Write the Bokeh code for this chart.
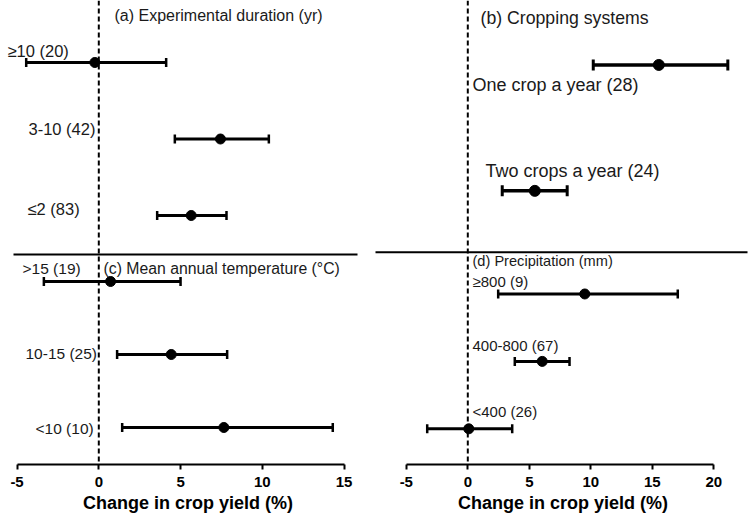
from bokeh.plotting import figure
from bokeh.layouts import row
from bokeh.models import Range1d, Span, Whisker, TeeHead, ColumnDataSource, FixedTicker
from bokeh.core.properties import value
from bokeh.embed import file_html
from bokeh.resources import INLINE

# ---------------- data ----------------
dur_labels = ["≥10 (20)", "3-10 (42)", "≤2 (83)"]
dur_mean = [-0.24, 7.44, 5.65]
dur_lo = [-4.44, 4.65, 3.57]
dur_hi = [4.12, 10.4, 7.81]

temp_labels = [">15 (19)", "10-15 (25)", "<10 (10)"]
temp_mean = [0.72, 4.43, 7.65]
temp_lo = [-3.36, 1.12, 1.43]
temp_hi = [5.0, 7.85, 14.31]

crop_labels = ["One crop a year (28)", "Two crops a year (24)"]
crop_mean = [15.53, 5.45]
crop_lo = [10.2, 2.8]
crop_hi = [21.14, 8.08]

prec_labels = ["≥800 (9)", "400-800 (67)", "<400 (26)"]
prec_mean = [9.51, 6.05, 0.08]
prec_lo = [2.47, 3.82, -3.3]
prec_hi = [17.07, 8.27, 3.61]

panel_titles = ["(a) Experimental duration (yr)", "(b) Cropping systems",
                "(c) Mean annual temperature (°C)", "(d) Precipitation (mm)"]
left_ticks = [-5, 0, 5, 10, 15]
right_ticks = [-5, 0, 5, 10, 15, 20]
x_title = "Change in crop yield (%)"

FONT = "Liberation Sans"


def make_fig(width, frame_h, bottom, x0, x1, ticks):
    p = figure(width=width, height=frame_h + bottom, output_backend="svg",
               toolbar_location=None, x_range=Range1d(x0, x1),
               y_range=Range1d(frame_h, 0),
               min_border_left=0, min_border_right=0, min_border_top=0,
               min_border_bottom=bottom)
    p.outline_line_color = None
    p.grid.visible = False
    p.yaxis.visible = False
    ax = p.xaxis[0]
    ax.ticker = FixedTicker(ticks=ticks)
    ax.bounds = (ticks[0], ticks[-1])
    ax.major_label_overrides = {t: str(t) for t in ticks}
    ax.minor_tick_line_color = None
    ax.axis_line_width = 2
    ax.major_tick_line_width = 2
    ax.major_tick_in = 0
    ax.major_tick_out = 5
    ax.major_label_standoff = 7
    ax.major_label_text_font = FONT
    ax.major_label_text_font_style = "bold"
    ax.major_label_text_font_size = "15px"
    ax.major_label_text_color = "black"
    ax.axis_label = x_title
    ax.axis_label_text_font = FONT
    ax.axis_label_text_font_style = "bold"
    ax.axis_label_text_font_size = "18px"
    ax.axis_label_text_color = "black"
    ax.axis_label_standoff = 3
    p.add_layout(Span(location=0, dimension="height", line_color="black",
                      line_width=2, line_dash="5 3"))
    return p


def forest(p, y0, step, mean, lo, hi, lw, cap, msize):
    ys = [y0 + i * step for i in range(len(mean))]
    src = ColumnDataSource(dict(y=ys, mean=mean, lo=lo, hi=hi))
    w = Whisker(source=src, base="y", lower="lo", upper="hi", dimension="width",
                line_width=lw, line_color="black",
                lower_head=TeeHead(size=cap, line_width=lw - 0.5, line_color="black"),
                upper_head=TeeHead(size=cap, line_width=lw - 0.5, line_color="black"))
    p.add_layout(w)
    p.scatter("mean", "y", source=src, size=msize, color="black")
    return ys


def texts(p, xs, ys, labels, size):
    p.text(x=xs, y=ys, text=labels, text_font=value(FONT), text_font_size=size,
           text_baseline="middle", text_align="left", text_color="#1a1a1a")


# ---------------- left column: (a) and (c) ----------------
LZ, LS = 98.3, 16.35           # pixel of zero, pixels per unit
lx = lambda px: (px - LZ) / LS
left = make_fig(375, 464, 56, lx(0), lx(375), left_ticks)
forest(left, 62, 76.5, dur_mean, dur_lo, dur_hi, 3, 9, 10)
forest(left, 281, 73, temp_mean, temp_lo, temp_hi, 3, 9, 10)
texts(left, [lx(7), lx(28), lx(27)], [50, 128, 208], dur_labels, "16.5px")
texts(left, [lx(114)], [15], [panel_titles[0]], "16px")
texts(left, [lx(22), lx(25), lx(35)], [268, 353, 428], temp_labels, "15.5px")
texts(left, [lx(103)], [268], [panel_titles[2]], "15.8px")
left.segment(x0=[lx(13)], x1=[lx(357)], y0=[254], y1=[254], line_color="black", line_width=2)

# ---------------- right column: (b) and (d) ----------------
RZ, RS = 467.3, 12.3
rx = lambda px: (px - RZ) / RS
right = make_fig(375, 468, 52, rx(375), rx(750), right_ticks)
forest(right, 65, 127, crop_mean, crop_lo, crop_hi, 3.5, 11, 11)
forest(right, 296, 68, prec_mean, prec_lo, prec_hi, 3, 9, 10)
texts(right, [rx(472), rx(485)], [85, 172], crop_labels, "18px")
texts(right, [rx(480)], [18], [panel_titles[1]], "17.7px")
texts(right, [rx(472)] * 3, [283, 348, 415], prec_labels, "15px")
texts(right, [rx(472)], [263], [panel_titles[3]], "14.6px")
right.segment(x0=[rx(373)], x1=[rx(747)], y0=[254], y1=[254], line_color="black", line_width=2)

layout = row(left, right)
open("out.html", "w").write(file_html(layout, INLINE))
